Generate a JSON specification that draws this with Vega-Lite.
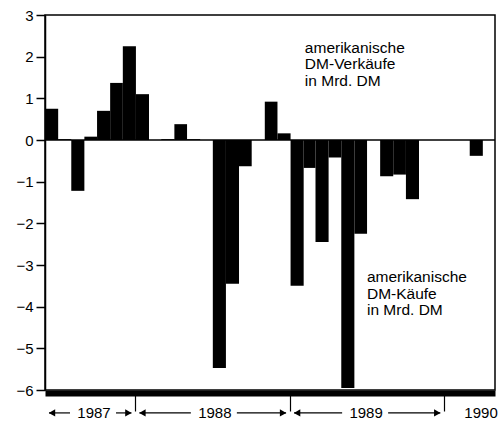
{
  "$schema": "https://vega.github.io/schema/vega-lite/v6.json",
  "width": 450,
  "height": 375,
  "autosize": {"type": "none"},
  "padding": {"left": 45, "top": 15, "right": 3, "bottom": 36},
  "background": "white",
  "config": {
    "font": "Liberation Sans",
    "view": {"stroke": "black", "strokeWidth": 1.5},
    "axis": {"grid": false, "labelColor": "black", "tickColor": "black", "domainColor": "black", "labelFont": "Liberation Sans", "labelFontSize": 15}
  },
  "datasets": {
    "flows": [
      {"month": "1987-06-01", "value": 0.75},
      {"month": "1987-07-01", "value": 0.02},
      {"month": "1987-08-01", "value": -1.22},
      {"month": "1987-09-01", "value": 0.08},
      {"month": "1987-10-01", "value": 0.7},
      {"month": "1987-11-01", "value": 1.37},
      {"month": "1987-12-01", "value": 2.25},
      {"month": "1988-01-01", "value": 1.1},
      {"month": "1988-02-01", "value": 0},
      {"month": "1988-03-01", "value": 0.02},
      {"month": "1988-04-01", "value": 0.38},
      {"month": "1988-05-01", "value": 0.02},
      {"month": "1988-06-01", "value": 0},
      {"month": "1988-07-01", "value": -5.47},
      {"month": "1988-08-01", "value": -3.45},
      {"month": "1988-09-01", "value": -0.63},
      {"month": "1988-10-01", "value": 0},
      {"month": "1988-11-01", "value": 0.92},
      {"month": "1988-12-01", "value": 0.16},
      {"month": "1989-01-01", "value": -3.5},
      {"month": "1989-02-01", "value": -0.67},
      {"month": "1989-03-01", "value": -2.45},
      {"month": "1989-04-01", "value": -0.42},
      {"month": "1989-05-01", "value": -5.95},
      {"month": "1989-06-01", "value": -2.25},
      {"month": "1989-07-01", "value": 0},
      {"month": "1989-08-01", "value": -0.87},
      {"month": "1989-09-01", "value": -0.83},
      {"month": "1989-10-01", "value": -1.42},
      {"month": "1989-11-01", "value": 0},
      {"month": "1989-12-01", "value": 0},
      {"month": "1990-01-01", "value": 0},
      {"month": "1990-02-01", "value": 0},
      {"month": "1990-03-01", "value": -0.38},
      {"month": "1990-04-01", "value": 0}
    ],
    "years": [
      {"year": "1987", "from": "1987-06-01", "to": "1988-01-01", "label_at": "1987-09-25"},
      {"year": "1988", "from": "1988-01-01", "to": "1989-01-01", "label_at": "1988-07-07"},
      {"year": "1989", "from": "1989-01-01", "to": "1990-01-01", "label_at": "1989-06-30"},
      {"year": "1990", "from": null, "to": null, "label_at": "1990-03-29"}
    ],
    "notes": [
      {"at": "1989-02-05", "value": 2.38, "text": "amerikanische\nDM-Verkäufe\nin Mrd. DM"},
      {"at": "1989-07-02", "value": -3.12, "text": "amerikanische\nDM-Käufe\nin Mrd. DM"}
    ]
  },
  "layer": [
    {
      "data": {"name": "flows"},
      "mark": {"type": "bar", "color": "black", "binSpacing": 0},
      "encoding": {
        "x": {
          "field": "month", "timeUnit": "utcyearmonth", "type": "temporal",
          "scale": {"type": "utc", "domain": [{"year": 1987, "month": 6, "date": 1, "utc": true}, {"year": 1990, "month": 5, "date": 1, "utc": true}]},
          "axis": {"title": null, "labels": false, "values": [{"year": 1988, "month": 1, "date": 1, "utc": true}, {"year": 1989, "month": 1, "date": 1, "utc": true}, {"year": 1990, "month": 1, "date": 1, "utc": true}], "domainWidth": 6, "offset": 3, "tickSize": 18, "tickWidth": 1.2}
        },
        "y": {
          "field": "value", "type": "quantitative",
          "scale": {"domain": [-6, 3], "nice": false},
          "axis": {"title": null, "values": [-6, -5, -4, -3, -2, -1, 0, 1, 2, 3], "tickSize": 9, "tickWidth": 1.5, "labelPadding": 3, "domainWidth": 1.5}
        }
      }
    },
    {
      "data": {"values": [{}]},
      "mark": {"type": "rule", "color": "black", "strokeWidth": 1.5},
      "encoding": {"y": {"datum": 0, "axis": {"title": null}}}
    },
    {
      "data": {"name": "years"},
      "transform": [{"filter": "datum.from != null"}],
      "mark": {"type": "rule", "color": "black", "strokeWidth": 1.2, "xOffset": 4, "x2Offset": -24},
      "encoding": {
        "x": {"field": "from", "type": "temporal", "axis": {"title": null}},
        "x2": {"field": "label_at"},
        "y": {"datum": -6.55, "axis": {"title": null}}
      }
    },
    {
      "data": {"name": "years"},
      "transform": [{"filter": "datum.from != null"}],
      "mark": {"type": "rule", "color": "black", "strokeWidth": 1.2, "xOffset": 22, "x2Offset": -4},
      "encoding": {
        "x": {"field": "label_at", "type": "temporal", "axis": {"title": null}},
        "x2": {"field": "to"},
        "y": {"datum": -6.55, "axis": {"title": null}}
      }
    },
    {
      "data": {"name": "years"},
      "transform": [{"filter": "datum.from != null"}],
      "mark": {"type": "point", "shape": "triangle-left", "filled": true, "color": "black", "size": 55, "opacity": 1, "xOffset": 7},
      "encoding": {
        "x": {"field": "from", "type": "temporal", "axis": {"title": null}},
        "y": {"datum": -6.55, "axis": {"title": null}}
      }
    },
    {
      "data": {"name": "years"},
      "transform": [{"filter": "datum.from != null"}],
      "mark": {"type": "point", "shape": "triangle-right", "filled": true, "color": "black", "size": 55, "opacity": 1, "xOffset": -7},
      "encoding": {
        "x": {"field": "to", "type": "temporal", "axis": {"title": null}},
        "y": {"datum": -6.55, "axis": {"title": null}}
      }
    },
    {
      "data": {"name": "years"},
      "mark": {"type": "text", "font": "Liberation Sans", "fontSize": 15, "color": "black", "align": "center", "baseline": "middle"},
      "encoding": {
        "x": {"field": "label_at", "type": "temporal", "axis": {"title": null}},
        "y": {"datum": -6.55, "axis": {"title": null}},
        "text": {"field": "year"}
      }
    },
    {
      "data": {"name": "notes"},
      "mark": {"type": "text", "font": "Liberation Sans", "fontSize": 15.5, "color": "black", "align": "left", "baseline": "top", "lineBreak": "\n", "lineHeight": 16.5},
      "encoding": {
        "x": {"field": "at", "type": "temporal", "axis": {"title": null}},
        "y": {"field": "value", "type": "quantitative", "axis": {"title": null}},
        "text": {"field": "text"}
      }
    }
  ]
}
